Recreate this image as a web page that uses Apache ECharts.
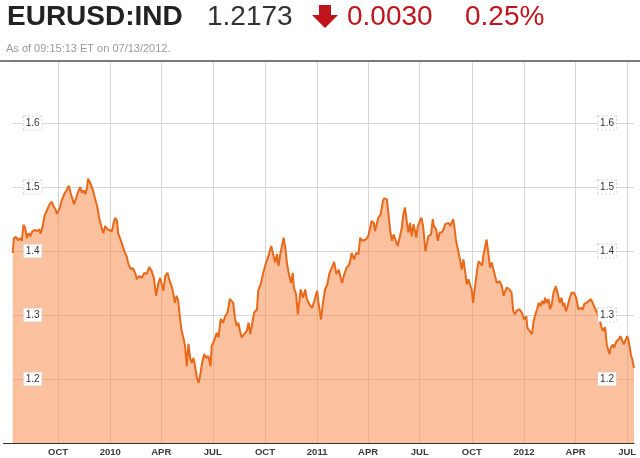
<!DOCTYPE html>
<html><head><meta charset="utf-8">
<script src="https://cdn.jsdelivr.net/npm/echarts@6/dist/echarts.min.js"></script>
<style>html,body{margin:0;padding:0;background:#fff}#c{width:640px;height:458px}</style>
</head><body><div id="c"></div>
<script>
// ---- data ----
const startDate = [2009, 6, 13];   // 2009-07-13
const endDate = [2012, 6, 13];     // 2012-07-13
// days since start date
const dayOffsets = [0,2,6,9,13,16,19,22,25,28,31,34,36,39,43,47,49,53,56,60,65,69,72,75,78,80,83,86,91,95,99,102,106,108,112,116,119,122,125,128,131,133,136,139,142,145,149,153,157,160,163,167,170,175,178,181,184,186,191,194,198,201,204,208,212,216,219,223,228,232,236,241,245,249,253,257,260,263,266,269,273,276,281,283,286,289,292,295,298,301,304,307,310,313,316,319,322,325,328,331,334,338,341,345,349,351,355,360,363,367,371,375,379,383,386,389,392,395,398,401,404,408,413,416,419,422,426,431,433,438,442,447,451,456,459,463,466,469,472,475,478,481,484,488,491,494,496,500,503,506,508,512,516,519,523,528,532,537,539,544,547,551,555,559,563,567,571,575,581,585,589,594,598,602,606,610,613,616,619,623,627,630,633,637,639,642,645,649,653,655,660,663,666,669,672,675,679,682,686,689,692,695,698,701,704,707,712,714,718,721,724,728,731,733,738,741,743,747,750,753,757,760,763,766,769,772,777,779,782,786,789,792,795,798,801,804,807,810,812,815,819,822,825,828,830,833,836,839,842,845,848,851,854,859,863,866,869,872,876,880,883,886,889,894,898,902,906,908,912,916,919,922,925,928,931,934,937,939,942,945,948,951,954,958,961,965,968,971,973,976,979,982,986,990,994,998,1002,1006,1008,1012,1016,1020,1023,1028,1032,1036,1039,1042,1045,1048,1051,1053,1055,1059,1061,1065,1069,1072,1075,1078,1081,1084,1086,1088,1091,1093,1096];
const rates = [1.397,1.420,1.422,1.417,1.420,1.416,1.441,1.436,1.420,1.428,1.423,1.430,1.427,1.433,1.431,1.434,1.427,1.439,1.455,1.463,1.473,1.477,1.470,1.466,1.458,1.458,1.467,1.478,1.489,1.495,1.502,1.491,1.480,1.473,1.483,1.494,1.500,1.491,1.495,1.489,1.498,1.513,1.508,1.505,1.494,1.483,1.470,1.450,1.436,1.428,1.439,1.434,1.436,1.431,1.444,1.452,1.447,1.428,1.416,1.408,1.397,1.392,1.380,1.372,1.373,1.366,1.356,1.361,1.358,1.366,1.364,1.375,1.369,1.358,1.330,1.350,1.358,1.348,1.338,1.361,1.366,1.356,1.343,1.335,1.319,1.330,1.322,1.296,1.275,1.265,1.252,1.220,1.255,1.233,1.225,1.233,1.218,1.202,1.194,1.207,1.225,1.239,1.233,1.236,1.220,1.252,1.259,1.272,1.265,1.294,1.288,1.298,1.304,1.325,1.327,1.319,1.296,1.283,1.288,1.275,1.265,1.270,1.275,1.288,1.270,1.270,1.304,1.309,1.338,1.350,1.366,1.382,1.392,1.408,1.397,1.382,1.395,1.377,1.395,1.408,1.421,1.405,1.379,1.361,1.350,1.366,1.343,1.332,1.301,1.325,1.340,1.327,1.340,1.325,1.317,1.311,1.322,1.338,1.322,1.293,1.317,1.340,1.348,1.366,1.374,1.383,1.364,1.371,1.350,1.364,1.374,1.379,1.397,1.387,1.397,1.395,1.421,1.416,1.413,1.418,1.423,1.434,1.447,1.444,1.431,1.442,1.452,1.457,1.478,1.482,1.481,1.457,1.431,1.416,1.426,1.429,1.408,1.410,1.434,1.457,1.468,1.447,1.429,1.444,1.423,1.442,1.421,1.436,1.447,1.452,1.439,1.400,1.413,1.423,1.426,1.450,1.439,1.434,1.416,1.429,1.429,1.434,1.442,1.439,1.444,1.439,1.450,1.439,1.416,1.400,1.387,1.371,1.387,1.369,1.348,1.356,1.358,1.338,1.319,1.340,1.369,1.384,1.387,1.377,1.392,1.395,1.418,1.397,1.374,1.382,1.379,1.361,1.350,1.353,1.345,1.330,1.338,1.343,1.340,1.335,1.306,1.301,1.307,1.309,1.304,1.293,1.298,1.280,1.275,1.270,1.291,1.301,1.309,1.319,1.314,1.322,1.317,1.327,1.319,1.325,1.309,1.317,1.335,1.345,1.335,1.319,1.327,1.314,1.319,1.306,1.314,1.325,1.335,1.335,1.327,1.309,1.311,1.309,1.317,1.319,1.322,1.325,1.322,1.309,1.301,1.291,1.280,1.275,1.281,1.254,1.244,1.239,1.249,1.254,1.249,1.259,1.262,1.267,1.270,1.254,1.257,1.267,1.262,1.252,1.236,1.231,1.2173];
// quarter tick dates
const quarterTicks = ['2009-10-01','2010-01-01','2010-04-01','2010-07-01','2010-10-01','2011-01-01','2011-04-01','2011-07-01','2011-10-01','2012-01-01','2012-04-01','2012-07-01'];
const monthNames = ['JAN','FEB','MAR','APR','MAY','JUN','JUL','AUG','SEP','OCT','NOV','DEC'];
const yTicks = [1.2, 1.3, 1.4, 1.5, 1.6];
const headerSymbol = 'EURUSD:IND';
const headerPrice = '1.2173';
const headerChange = '0.0030';
const headerPct = '0.25%';
const headerAsOf = 'As of 09:15:13 ET on 07/13/2012.';

// ---- build ----
const DAY = 86400000;
const startMs = Date.UTC(startDate[0], startDate[1], startDate[2]);
const endMs = Date.UTC(endDate[0], endDate[1], endDate[2]);
const seriesData = dayOffsets.map((d, i) => [startMs + d * DAY, rates[i]]);
const qMs = quarterTicks.map(s => { const p = s.split('-').map(Number); return Date.UTC(p[0], p[1] - 1, p[2]); });

const FONT = '"Liberation Sans", Arial, sans-serif';
const RED = '#c0141c';
const GRID = '#d6d6d6';
const yMin = 1.1, yMax = 1.697;

const labelBox = {
  inside: true, customValues: yTicks, color: '#333', fontSize: 10, fontFamily: FONT,
  backgroundColor: '#fff', borderColor: '#d4d4d4', borderWidth: 1, borderType: 'dotted',
  padding: [2, 2, 1, 2],
  formatter: v => v.toFixed(1)
};

const chart = echarts.init(document.getElementById('c'), null, {renderer: 'canvas'});
chart.setOption({
  animation: false,
  backgroundColor: '#fff',
  textStyle: {fontFamily: FONT},
  grid: {left: 12.7, right: 6, top: 61, bottom: 15, outerBoundsMode: 'none'},
  xAxis: {
    type: 'value', min: startMs, max: endMs,
    axisLine: {show: true, onZero: false, lineStyle: {color: '#333', width: 1}},
    axisTick: {show: false},
    axisLabel: {
      customValues: qMs, color: '#3a3a3a', fontSize: 9.5, fontWeight: 'bold', fontFamily: FONT, margin: 4,
      formatter: v => { const d = new Date(v); const m = d.getUTCMonth(); return m === 0 ? String(d.getUTCFullYear()) : monthNames[m]; }
    },
    splitLine: {show: false}
  },
  yAxis: [
    {type: 'value', min: yMin, max: yMax, interval: 0.1, position: 'left',
     axisLine: {show: false}, axisTick: {show: false}, axisLabel: {show: false},
     splitLine: {show: true, lineStyle: {color: GRID, width: 1}}},
    {type: 'value', min: yMin, max: yMax, interval: 0.1, position: 'left', z: 10,
     axisLine: {show: false}, axisTick: {show: false}, splitLine: {show: false},
     axisLabel: Object.assign({}, labelBox, {margin: 11})},
    {type: 'value', min: yMin, max: yMax, interval: 0.1, position: 'right', z: 10,
     axisLine: {show: false}, axisTick: {show: false}, splitLine: {show: false},
     axisLabel: Object.assign({}, labelBox, {margin: 18})}
  ],
  series: [
    {
      type: 'line', data: [], yAxisIndex: 0, z: 1, silent: true,
      markLine: {
        silent: true, symbol: 'none', label: {show: false}, z: 1,
        lineStyle: {color: GRID, width: 1, type: 'solid'},
        data: qMs.map(t => ({xAxis: t}))
      }
    },
    {
      type: 'line', data: seriesData, yAxisIndex: 0, showSymbol: false, symbol: 'none',
      lineStyle: {color: '#e8691a', width: 2},
      areaStyle: {color: 'rgba(247,140,75,0.78)', origin: 'start'},
      z: 3
    }
  ],
  graphic: [
    {type: 'text', x: 7, y: 17, style: {text: headerSymbol, font: 'bold 28px ' + FONT, fill: '#222', verticalAlign: 'middle'}},
    {type: 'text', x: 207, y: 17, style: {text: headerPrice, font: '28px ' + FONT, fill: '#333', verticalAlign: 'middle'}},
    {type: 'polygon', shape: {points: [[319,5],[331,5],[331,15],[338,15],[325,28],[312,15],[319,15]]}, style: {fill: RED}},
    {type: 'text', x: 347, y: 17, style: {text: headerChange, font: '28px ' + FONT, fill: RED, verticalAlign: 'middle'}},
    {type: 'text', x: 465, y: 17, style: {text: headerPct, font: '28px ' + FONT, fill: RED, verticalAlign: 'middle'}},
    {type: 'text', x: 6, y: 49, style: {text: headerAsOf, font: '11px ' + FONT, fill: '#9a9a9a', verticalAlign: 'middle'}},
    {type: 'line', shape: {x1: 0, y1: 61, x2: 640, y2: 61}, style: {stroke: '#555', lineWidth: 1.5}, z: 20},
    {type: 'line', shape: {x1: 3, y1: 443.5, x2: 13, y2: 443.5}, style: {stroke: '#333', lineWidth: 1}}
  ]
});
</script></body></html>
